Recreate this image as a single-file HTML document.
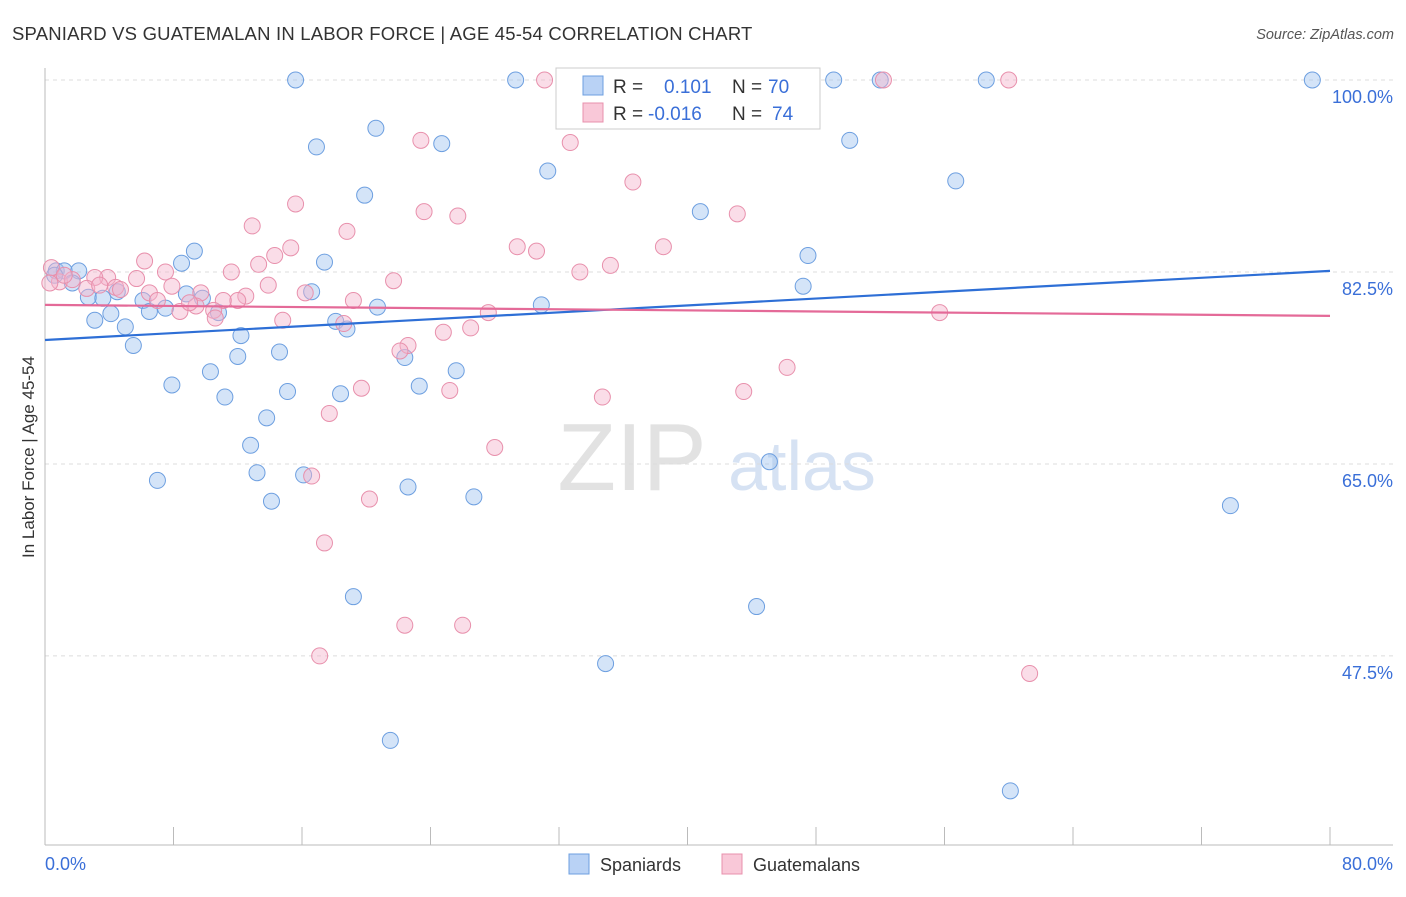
<!DOCTYPE html>
<html><head><meta charset="utf-8"><style>
body{margin:0;background:#fff;font-family:"Liberation Sans",sans-serif;}
svg text{font-family:"Liberation Sans",sans-serif;}
</style></head><body>
<svg id="chart" width="1406" height="892" xmlns="http://www.w3.org/2000/svg">
<text x="12" y="40" font-size="18.5" letter-spacing="0.2" fill="#333">SPANIARD VS GUATEMALAN IN LABOR FORCE | AGE 45-54 CORRELATION CHART</text>
<text x="1394" y="39" font-size="14.5" fill="#555" text-anchor="end" font-style="italic">Source: ZipAtlas.com</text>
<g>
<text x="632" y="490" font-size="96" fill="#e2e2e2" font-family="Liberation Serif,serif" text-anchor="middle">ZIP</text>
<text x="802" y="490" font-size="70" fill="#d6e2f3" text-anchor="middle">atlas</text>
</g>
<g id="grid"></g>
<g id="axes"></g>
<g id="points"></g>
<g id="trends"></g>
<text transform="translate(34,457) rotate(-90)" font-size="17" fill="#333" text-anchor="middle">In Labor Force | Age 45-54</text>
<g>
<rect x="556" y="68" width="264" height="61" fill="#fff" stroke="#ccc"/>
<rect x="583" y="76" width="20" height="19" fill="#b9d2f5" stroke="#6d9fe0"/>
<text x="613" y="93" font-size="19" fill="#333">R =</text>
<text x="664" y="93" font-size="19" fill="#3a6fd8">0.101</text>
<text x="732" y="93" font-size="19" fill="#333">N =</text>
<text x="768" y="93" font-size="19" fill="#3a6fd8">70</text>
<rect x="583" y="103" width="20" height="19" fill="#f9c8d8" stroke="#e890ac"/>
<text x="613" y="120" font-size="19" fill="#333">R =</text>
<text x="648" y="120" font-size="19" fill="#3a6fd8">-0.016</text>
<text x="732" y="120" font-size="19" fill="#333">N =</text>
<text x="772" y="120" font-size="19" fill="#3a6fd8">74</text>
</g>
<g>
<rect x="569" y="854" width="20" height="20" fill="#b9d2f5" stroke="#6d9fe0"/>
<text x="600" y="871" font-size="18" fill="#333">Spaniards</text>
<rect x="722" y="854" width="20" height="20" fill="#f9c8d8" stroke="#e890ac"/>
<text x="753" y="871" font-size="18" fill="#333">Guatemalans</text>
</g>
</svg>
<script>
const blueX=[15.6,29.3,33.1,41.7,49.1,52.0,58.6,78.9,20.6,16.9,24.7,50.1,31.3,56.7,19.9,40.8,9.3,8.5,17.4,47.5,0.7,1.2,2.1,1.7,2.7,3.6,4.5,6.1,8.8,9.8,16.6,47.2,3.1,4.1,5.0,6.5,7.5,10.8,20.7,30.9,18.1,18.8,5.5,12.2,12.0,14.6,22.4,7.9,10.3,15.1,18.4,23.3,25.6,11.2,13.8,12.8,13.2,16.1,7.0,22.6,14.1,26.7,45.1,73.8,19.2,44.3,34.9,21.5,60.1,0.6];
const blueY=[100,100,100,100,100,100,100,100,95.6,93.9,94.2,94.5,91.7,90.8,89.5,88.0,84.4,83.3,83.4,84.0,82.6,82.6,82.6,81.5,80.2,80.1,80.7,79.9,80.5,80.1,80.7,81.2,78.1,78.7,77.5,78.9,79.2,78.8,79.3,79.5,78.0,77.3,75.8,76.7,74.8,75.2,74.7,72.2,73.4,71.6,71.4,72.1,73.5,71.1,69.2,66.7,64.2,64.0,63.5,62.9,61.6,62.0,65.2,61.2,52.9,52.0,46.8,39.8,35.2,82.2];
const pinkX=[31.1,41.6,52.2,60.0,23.4,32.7,36.6,15.6,23.6,25.7,43.1,12.9,18.8,15.3,14.3,29.4,30.6,38.5,6.2,13.3,11.6,7.5,33.3,35.2,21.7,13.9,5.7,3.9,3.1,0.4,0.9,1.7,2.6,4.4,7.9,6.5,7.0,9.7,16.2,12.5,12.0,11.1,19.2,8.4,9.4,10.5,10.6,27.6,55.7,14.8,18.6,24.8,26.5,22.6,22.1,46.2,19.7,25.2,43.5,34.7,17.7,28.0,16.6,20.2,17.4,22.4,26.0,17.1,61.3,0.3,4.7,3.4,9.0,1.2];
const pinkY=[100,100,100,100,94.5,94.3,90.7,88.7,88.0,87.6,87.8,86.7,86.2,84.7,84.0,84.8,84.4,84.8,83.5,83.2,82.5,82.5,82.5,83.1,81.7,81.3,81.9,82.0,82.0,82.9,81.6,81.8,81.0,81.1,81.2,80.6,79.9,80.6,80.6,80.3,79.9,79.9,79.9,78.9,79.4,79.0,78.3,78.8,78.8,78.1,77.8,77.0,77.4,75.8,75.3,73.8,71.9,71.7,71.6,71.1,69.6,66.5,63.9,61.8,57.8,50.3,50.3,47.5,45.9,81.5,80.9,81.3,79.7,82.2];
const blueTrend=[76.3,82.6];
const pinkTrend=[79.5,78.5];
const yTicks=[100,82.5,65,47.5];
const yTickLabels=["100.0%","82.5%","65.0%","47.5%"];
const xTicks=[0,8,16,24,32,40,48,56,64,72,80];

const NS="http://www.w3.org/2000/svg";
const sx=v=>45+v/80*1285;
const sy=v=>80+(100-v)*10.97;
function mk(tag,attrs,parent){const e=document.createElementNS(NS,tag);for(const k in attrs)e.setAttribute(k,attrs[k]);parent.appendChild(e);return e;}
const grid=document.getElementById('grid'),axes=document.getElementById('axes'),pts=document.getElementById('points'),tr=document.getElementById('trends');
yTicks.forEach((t,i)=>{
 const l=mk('line',{x1:45,x2:1393,y1:sy(t),y2:sy(t),stroke:'#dcdcdc','stroke-dasharray':'4,4'},grid);
 
 
 const tx=mk('text',{x:1393,y:sy(t)+23,'font-size':18,fill:'#3a6fd8','text-anchor':'end'},axes);
 tx.textContent=yTickLabels[i];
 
 
});
const ya=mk('line',{x1:45,x2:45,y1:68,y2:845,stroke:'#bbb'},axes);


const xa=mk('line',{x1:45,x2:1393,y1:845,y2:845,stroke:'#bbb'},axes);


xTicks.forEach(t=>{
 const l=mk('line',{x1:sx(t),x2:sx(t),y1:827,y2:845,stroke:'#bbb'},axes);
 
 
});
const x0=mk('text',{x:45,y:870,'font-size':18,fill:'#3a6fd8'},axes);x0.textContent='0.0%';


const x1=mk('text',{x:1393,y:870,'font-size':18,fill:'#3a6fd8','text-anchor':'end'},axes);x1.textContent='80.0%';


blueX.forEach((x,i)=>{
 const c=mk('circle',{cx:sx(x),cy:sy(blueY[i]),r:8,fill:'rgba(160,195,240,0.45)',stroke:'#6d9fe0','stroke-width':1},pts);
 
 
});
pinkX.forEach((x,i)=>{
 const c=mk('circle',{cx:sx(x),cy:sy(pinkY[i]),r:8,fill:'rgba(245,180,205,0.45)',stroke:'#e890ac','stroke-width':1},pts);
 
 
});
const bl=mk('line',{x1:sx(0),y1:sy(blueTrend[0]),x2:sx(80),y2:sy(blueTrend[1]),stroke:'#2e6fd6','stroke-width':2.2},tr);


const pl=mk('line',{x1:sx(0),y1:sy(pinkTrend[0]),x2:sx(80),y2:sy(pinkTrend[1]),stroke:'#e46a98','stroke-width':2.2},tr);


</script>
</body></html>
